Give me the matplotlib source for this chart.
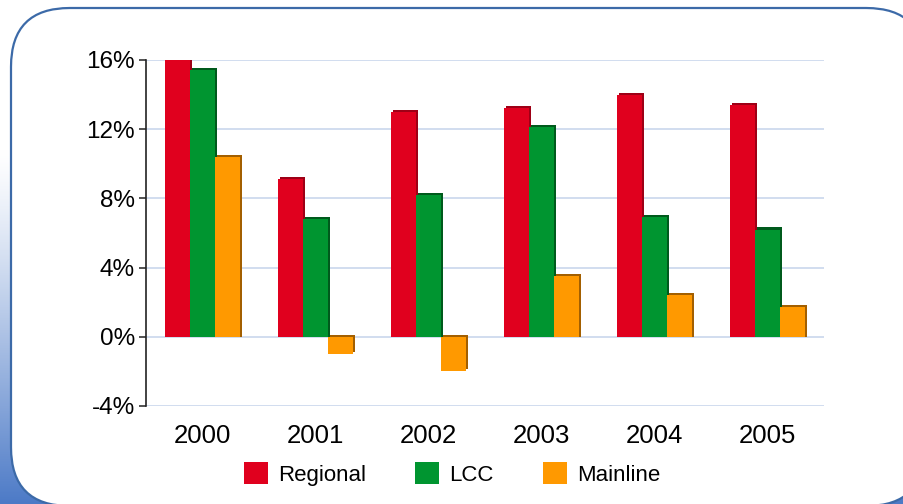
import numpy as np
import matplotlib
matplotlib.use("Agg")
import matplotlib.pyplot as plt
from matplotlib.patches import FancyBboxPatch, Patch
from matplotlib.ticker import FuncFormatter

years = ["2000", "2001", "2002", "2003", "2004", "2005"]
regional = [16.0, 9.1, 13.0, 13.2, 14.0, 13.4]
lcc = [15.4, 6.8, 8.2, 12.1, 6.9, 6.2]
mainline = [10.4, -1.0, -2.0, 3.5, 2.4, 1.7]
series_names = ["Regional", "LCC", "Mainline"]
yticks = [-4, 0, 4, 8, 12, 16]

plt.rcParams["font.family"] = ["Liberation Sans", "DejaVu Sans"]

fig = plt.figure(figsize=(9.04, 5.04), dpi=100)
W, H = 904, 504

# background gradient
bg = fig.add_axes([0, 0, 1, 1], zorder=-10)
bg.set_axis_off()
h = 200
grad = np.linspace(0, 1, h)[:, None]
grad = np.clip((grad - 0.3) / 0.7, 0, 1) ** 1.2
top = np.array([1.0, 1.0, 1.0])
bot = np.array([0.30, 0.48, 0.78])
img = top[None, None, :] * (1 - grad[:, :, None]) + bot[None, None, :] * grad[:, :, None]
img = np.repeat(img, 4, axis=1)
bg.imshow(img, extent=[0, 1, 0, 1], aspect="auto", origin="upper")
bg.set_xlim(0, 1)
bg.set_ylim(0, 1)
box = FancyBboxPatch((11 / W, -2 / H), (925 - 11) / W, (496 + 2) / H,
                     boxstyle="round,pad=0,rounding_size=0.065",
                     mutation_aspect=W / H,
                     facecolor="white", edgecolor="#3c6aa8", linewidth=1.6,
                     transform=bg.transAxes, clip_on=False)
bg.add_patch(box)

ax = fig.add_axes([146 / W, 1 - 406 / H, (824 - 146) / W, (406 - 60) / H])
ax.set_facecolor("none")

x = np.arange(len(years))
bw = 0.222
colors = ["#e0001e", "#009530", "#ff9900"]
darks = ["#9e0016", "#005a1c", "#a35f00"]
dx = 0.018
dy = 0.12
for i, (vals, c, d, name) in enumerate(zip([regional, lcc, mainline], colors, darks, series_names)):
    xi = x + (i - 1) * bw
    vals = np.array(vals)
    sh = np.where(vals >= 0, vals + dy, vals)
    ax.bar(xi + dx, sh, width=bw, bottom=np.where(vals >= 0, 0, dy), color=d, zorder=2 + i * 2)
    ax.bar(xi, vals, width=bw, color=c, zorder=3 + i * 2, label=name)

ax.set_xlim(-0.5, 5.5)
ax.set_ylim(-4, 16)
ax.set_yticks(yticks)
ax.yaxis.set_major_formatter(FuncFormatter(lambda v, p: f"{int(v)}%"))
ax.set_xticks(x)
ax.set_xticklabels(years)
ax.tick_params(axis="x", length=0, labelsize=18.5, pad=13)
ax.tick_params(axis="y", length=5, width=1.2, color="#333333", labelsize=17.5, pad=3)
for s in ["top", "right", "bottom"]:
    ax.spines[s].set_visible(False)
ax.spines["left"].set_color("#222222")
ax.spines["left"].set_linewidth(1.2)
ax.grid(axis="y", color="#c9d7ec", linewidth=1.2, zorder=0)
ax.set_axisbelow(True)

handles = [Patch(facecolor=c, edgecolor="none") for c in colors]
fig.legend(handles, series_names, loc="center", bbox_to_anchor=(0.5, 1 - 474 / H),
           ncol=3, frameon=False, fontsize=16, handlelength=1.1, handleheight=1.1,
           handletextpad=0.45, columnspacing=2.2)

fig.savefig("out.png", dpi=100)
